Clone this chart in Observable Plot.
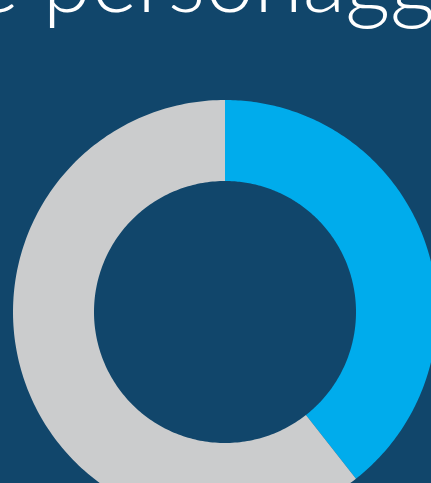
<!DOCTYPE html>
<html>
<head>
<meta charset="utf-8">
<script src="https://cdn.jsdelivr.net/npm/d3@7"></script>
<script src="https://cdn.jsdelivr.net/npm/@observablehq/plot@0.6"></script>
<style>
  html, body { margin: 0; padding: 0; background: #11466b; width: 431px; height: 483px; overflow: hidden; }
  #title { position: absolute; left: -27px; top: -74px; font-family: Lato, "Open Sans", sans-serif; font-weight: 300; font-size: 88px; color: #ffffff; white-space: nowrap; line-height: 1.2; }
  #chart { position: absolute; left: 0; top: 50px; }
</style>
</head>
<body>
<div id="title">e personaggi</div>
<div id="chart"></div>
<script>
const categories = ["Quota A", "Quota B"];
const values = [39.4, 60.6];
const colors = ["#00acec", "#cbcccd"];

const W = 431, H = 433;
const outerR = 212, innerR = 131;
const cx = 225, cy = 262; // pixel centre inside svg

const pie = d3.pie().sort(null).value(d => d.value)(categories.map((c, i) => ({cat: c, value: values[i]})));

const pts = [];
for (const s of pie) {
  const n = 200;
  for (let k = 0; k <= n; k++) {
    const a = s.startAngle + (s.endAngle - s.startAngle) * k / n;
    pts.push({cat: s.data.cat,
      x1: outerR * Math.sin(a), y1: outerR * Math.cos(a),
      x2: innerR * Math.sin(a), y2: innerR * Math.cos(a)});
  }
}

const chart = Plot.plot({
  width: W, height: H,
  margin: 0,
  x: {domain: [-cx, W - cx], axis: null},
  y: {domain: [-(H - cy), cy], axis: null},
  color: {domain: categories, range: colors},
  style: {background: "transparent", overflow: "visible"},
  marks: [
    Plot.area(pts, {x1: "x1", y1: "y1", x2: "x2", y2: "y2", fill: "cat", z: "cat", curve: "linear"})
  ]
});
document.getElementById("chart").appendChild(chart);
</script>
</body>
</html>
